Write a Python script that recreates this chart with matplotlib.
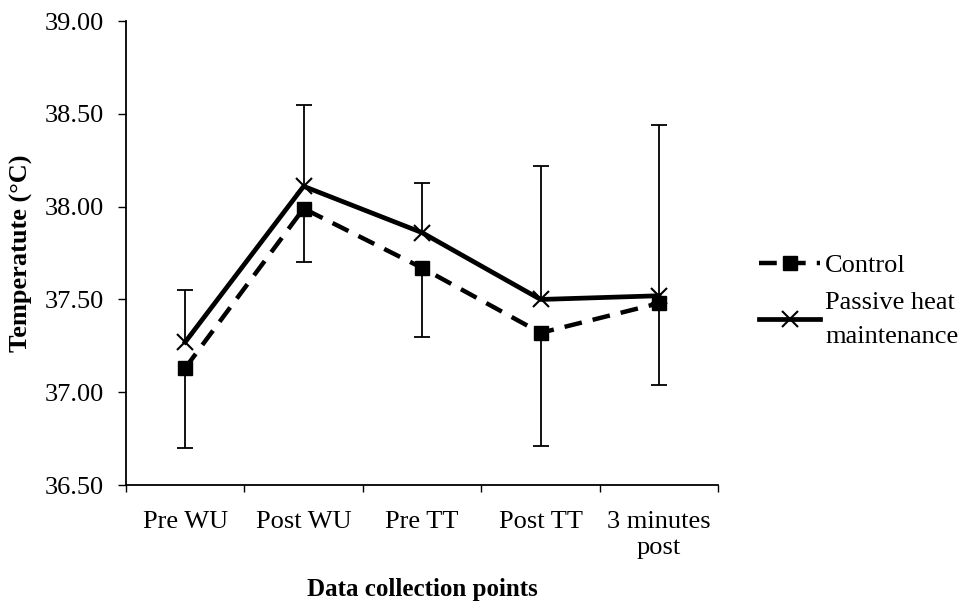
import matplotlib.pyplot as plt
import numpy as np

plt.rcParams['font.family'] = ['Liberation Serif', 'DejaVu Serif']

# --- datos ---
puntos = ['Pre WU', 'Post WU', 'Pre TT', 'Post TT', '3 minutes\npost']
control = [37.13, 37.99, 37.67, 37.32, 37.48]
control_err_abajo = [0.43, 0.29, 0.37, 0.61, 0.44]
phm = [37.27, 38.11, 37.86, 37.50, 37.52]
phm_err_arriba = [0.28, 0.44, 0.27, 0.72, 0.92]

x = np.arange(1, len(puntos) + 1)

fig = plt.figure(figsize=(9.76, 6.04), dpi=100)
ax = fig.add_axes([0.129, 0.197, 0.607, 0.768])

# barras de error: control hacia abajo, PHM hacia arriba
ax.errorbar(x, control, yerr=[control_err_abajo, np.zeros(5)], fmt='none',
            ecolor='black', elinewidth=1.3, capsize=0, zorder=1)
ax.errorbar(x, phm, yerr=[np.zeros(5), phm_err_arriba], fmt='none',
            ecolor='black', elinewidth=1.3, capsize=0, zorder=1)
ax.plot(x, np.array(control) - np.array(control_err_abajo), ls='none',
        marker='_', ms=12, mew=1.3, color='black', zorder=1)
ax.plot(x, np.array(phm) + np.array(phm_err_arriba), ls='none',
        marker='_', ms=12, mew=1.3, color='black', zorder=1)

ax.plot(x, control, color='black', lw=3.2, ls=(0, (4, 2.5)),
        marker='s', ms=10, label='Control', zorder=3)
ax.plot(x, phm, color='black', lw=3.4, ls='-', marker='x', ms=11, mew=1.5,
        label='Passive heat\nmaintenance', zorder=2)

ax.set_xlim(0.5, 5.5)
ax.set_ylim(36.5, 39.0)
ax.set_yticks(np.arange(36.5, 39.01, 0.5))
ax.set_yticklabels([f'{v:.2f}' for v in np.arange(36.5, 39.01, 0.5)])
ax.set_xticks(x)
ax.set_xticklabels(puntos)
ax.set_xticks(np.arange(0.5, 5.6, 1.0), minor=True)
ax.tick_params(axis='x', which='major', length=0, labelsize=19, pad=19)
ax.tick_params(axis='x', which='minor', length=5, width=1, direction='out')
ax.tick_params(axis='y', length=6, width=1, labelsize=19, pad=10)
for t in ax.get_xticklabels():
    t.set_linespacing(1.2)

for lado in ['top', 'right']:
    ax.spines[lado].set_visible(False)
for lado in ['left', 'bottom']:
    ax.spines[lado].set_linewidth(1.3)

ax.set_ylabel('Temperatute (°C)', fontsize=19, fontweight='bold', labelpad=8)
ax.set_xlabel('Data collection points', fontsize=18, fontweight='bold', labelpad=14)

leg = ax.legend(loc='upper left', bbox_to_anchor=(0.778, 0.580), bbox_transform=fig.transFigure,
                frameon=False, fontsize=19, handlelength=2.3, handletextpad=0.2,
                labelspacing=0.55, borderpad=0, borderaxespad=0)
for t in leg.get_texts():
    t.set_linespacing(1.75)

fig.savefig('out.png', dpi=100)
